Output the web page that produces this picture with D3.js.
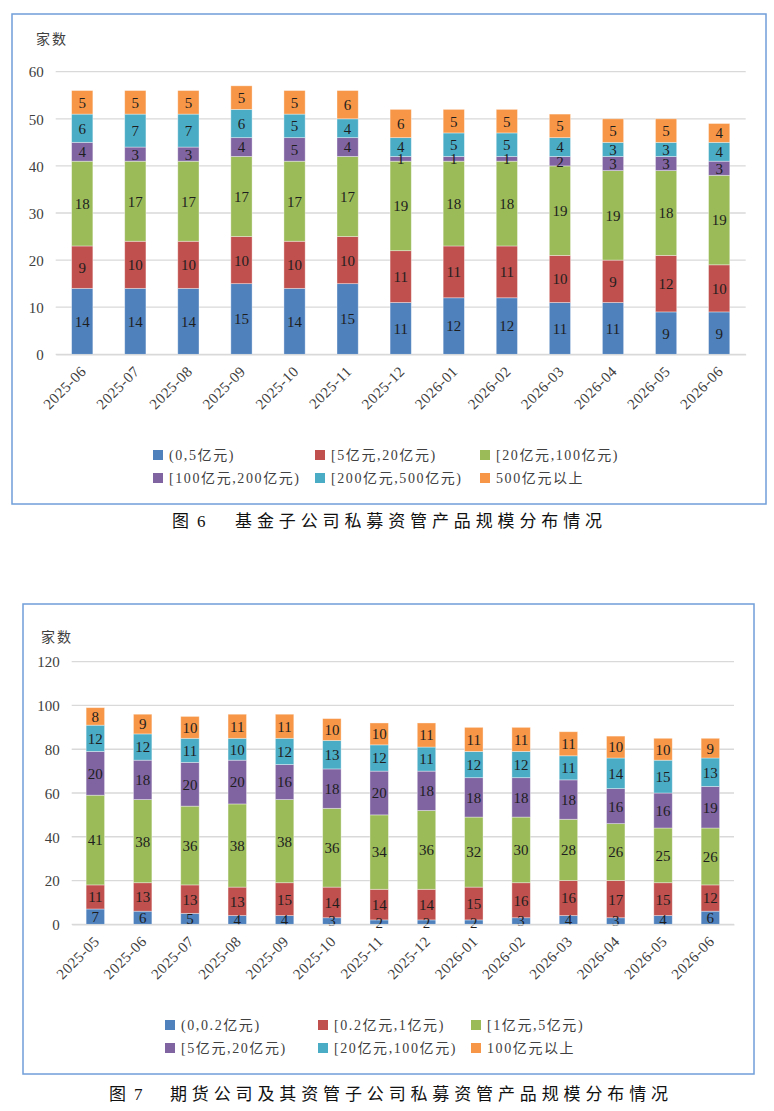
<!DOCTYPE html>
<html>
<head>
<meta charset="utf-8">
<script src="https://cdn.jsdelivr.net/npm/d3@7/dist/d3.min.js"></script>
<style>
  html, body { margin: 0; padding: 0; background: #fff; }
  svg { display: block; }
</style>
</head>
<body>
<svg id="root" width="774" height="1111"></svg>
<script>
// ---------- Chart 1 data (基金子公司) ----------
const months1 = ["2025-06","2025-07","2025-08","2025-09","2025-10","2025-11","2025-12","2026-01","2026-02","2026-03","2026-04","2026-05","2026-06"];
const legend1 = ["(0,5亿元)","[5亿元,20亿元)","[20亿元,100亿元)","[100亿元,200亿元)","[200亿元,500亿元)","500亿元以上"];
const c1_s0 = [14,14,14,15,14,15,11,12,12,11,11,9,9];
const c1_s1 = [9,10,10,10,10,10,11,11,11,10,9,12,10];
const c1_s2 = [18,17,17,17,17,17,19,18,18,19,19,18,19];
const c1_s3 = [4,3,3,4,5,4,1,1,1,2,3,3,3];
const c1_s4 = [6,7,7,6,5,4,4,5,5,4,3,3,4];
const c1_s5 = [5,5,5,5,5,6,6,5,5,5,5,5,4];
const yTicks1 = [0,10,20,30,40,50,60];

// ---------- Chart 2 data (期货公司及其资管子公司) ----------
const months2 = ["2025-05","2025-06","2025-07","2025-08","2025-09","2025-10","2025-11","2025-12","2026-01","2026-02","2026-03","2026-04","2026-05","2026-06"];
const legend2 = ["(0,0.2亿元)","[0.2亿元,1亿元)","[1亿元,5亿元)","[5亿元,20亿元)","[20亿元,100亿元)","100亿元以上"];
const c2_s0 = [7,6,5,4,4,3,2,2,2,3,4,3,4,6];
const c2_s1 = [11,13,13,13,15,14,14,14,15,16,16,17,15,12];
const c2_s2 = [41,38,36,38,38,36,34,36,32,30,28,26,25,26];
const c2_s3 = [20,18,20,20,16,18,20,18,18,18,18,16,16,19];
const c2_s4 = [12,12,11,10,12,13,12,11,12,12,11,14,15,13];
const c2_s5 = [8,9,10,11,11,10,10,11,11,11,11,10,10,9];
const yTicks2 = [0,20,40,60,80,100,120];

const colors = ["#4f81bd","#c0504d","#9bbb59","#8064a2","#4bacc6","#f79646"];
const FONT = "'Liberation Serif','Noto Sans CJK SC',serif";

const svg = d3.select("#root");

function drawChart(o) {
  const g = svg.append("g");
  // frame
  g.append("rect")
    .attr("x", o.frame[0]).attr("y", o.frame[1])
    .attr("width", o.frame[2] - o.frame[0]).attr("height", o.frame[3] - o.frame[1])
    .attr("fill", "none").attr("stroke", "#6f9fd8").attr("stroke-width", 1.5);

  const x = d3.scaleBand().domain(o.cats).range([o.left, o.right]).paddingInner(o.pad).paddingOuter(o.pad / 2);
  const y = d3.scaleLinear().domain([0, o.yMax]).range([o.bottom, o.top]);

  // grid
  g.append("g").selectAll("line").data(o.ticks).join("line")
    .attr("x1", o.left).attr("x2", o.right)
    .attr("y1", d => y(d)).attr("y2", d => y(d))
    .attr("stroke", "#d9d9d9").attr("stroke-width", 1.3);

  // y axis labels
  const yAxis = d3.axisLeft(y).tickValues(o.ticks).tickSize(0).tickPadding(0).tickFormat(d3.format("d"));
  const ya = g.append("g").attr("transform", `translate(${o.left - 12},0)`).call(yAxis);
  ya.select(".domain").remove();
  ya.selectAll("text").attr("font-family", FONT).attr("font-size", 15).attr("fill", "#404040").attr("dy", "0.35em");

  // y title
  g.append("text").attr("x", o.ytitle[0]).attr("y", o.ytitle[1])
    .attr("font-family", FONT).attr("font-size", 14).attr("letter-spacing", 2)
    .attr("fill", "#404040").text("家数");

  // stacked data
  const rows = o.cats.map((c, i) => {
    const r = { cat: c };
    o.series.forEach((s, k) => r["k" + k] = s[i]);
    return r;
  });
  const keys = o.series.map((s, k) => "k" + k);
  const stacked = d3.stack().keys(keys)(rows);

  const layers = g.append("g").selectAll("g").data(stacked).join("g")
    .attr("fill", (d, k) => colors[k]);
  layers.selectAll("rect").data(d => d).join("rect")
    .attr("x", d => x(d.data.cat))
    .attr("width", x.bandwidth())
    .attr("y", d => y(d[1]))
    .attr("height", d => y(d[0]) - y(d[1]))
    .attr("stroke", "rgba(255,255,255,0.45)").attr("stroke-width", 0.8);

  // value labels
  const lab = g.append("g").selectAll("g").data(stacked).join("g");
  lab.selectAll("text").data(d => d).join("text")
    .attr("x", d => x(d.data.cat) + x.bandwidth() / 2)
    .attr("y", d => (y(d[0]) + y(d[1])) / 2)
    .attr("dy", "0.36em")
    .attr("text-anchor", "middle")
    .attr("font-family", FONT).attr("font-size", 15)
    .attr("fill", "#1e1e1e")
    .text(d => d[1] - d[0]);

  // x labels (rotated)
  const xAxis = d3.axisBottom(x).tickSize(0).tickPadding(0);
  const xa = g.append("g").attr("transform", `translate(0,${o.bottom})`).call(xAxis);
  xa.select(".domain").attr("stroke", "#d9d9d9").attr("stroke-width", 1.3);
  xa.selectAll("text")
    .attr("font-family", FONT).attr("font-size", 15).attr("fill", "#404040")
    .attr("letter-spacing", 0.5)
    .attr("text-anchor", "end")
    .attr("dy", null).attr("y", null)
    .attr("transform", `translate(5,${o.xlabDy}) rotate(-45)`);

  // legend
  const items = o.legend.map((t, k) => ({ t, k }));
  const lg = g.append("g").selectAll("g").data(items).join("g")
    .attr("transform", d => `translate(${o.legCols[d.k % 3]},${o.legRows[Math.floor(d.k / 3)]})`);
  lg.append("rect").attr("x", 0).attr("y", -5).attr("width", 10).attr("height", 10)
    .attr("fill", d => colors[d.k]);
  lg.append("text").attr("x", o.legTextOff).attr("y", 0).attr("dy", "0.36em")
    .attr("font-family", FONT).attr("font-size", 14).attr("letter-spacing", 1.6)
    .attr("fill", "#404040").text(d => d.t);

  // caption
  const cap = svg.append("g")
    .attr("font-family", FONT).attr("font-size", o.capSize).attr("fill", "#111");
  cap.append("text").attr("x", o.capX[0]).attr("y", o.capY).text("图");
  cap.append("text").attr("x", o.capX[1]).attr("y", o.capY).text(o.capNum);
  cap.append("text").attr("x", o.capX[2]).attr("y", o.capY)
    .attr("textLength", o.capLen).attr("lengthAdjust", "spacing")
    .text(o.capText);
}

drawChart({
  frame: [12, 14, 766, 504],
  cats: months1,
  series: [c1_s0, c1_s1, c1_s2, c1_s3, c1_s4, c1_s5],
  ticks: yTicks1, yMax: 60,
  left: 55.7, right: 745.7, top: 71.7, bottom: 354.3, pad: 0.6,
  ytitle: [36, 44],
  xlabDy: 18,
  legend: legend1, legCols: [153, 315, 480], legRows: [455, 478], legTextOff: 16,
  capY: 527, capSize: 17, capX: [172, 197, 235], capNum: "6", capLen: 367,
  capText: "基金子公司私募资管产品规模分布情况"
});

drawChart({
  frame: [23, 604, 754, 1074],
  cats: months2,
  series: [c2_s0, c2_s1, c2_s2, c2_s3, c2_s4, c2_s5],
  ticks: yTicks2, yMax: 120,
  left: 71.7, right: 734, top: 661.7, bottom: 924.3, pad: 0.61,
  ytitle: [41, 642],
  xlabDy: 18,
  legend: legend2, legCols: [165, 318, 471], legRows: [1025, 1048], legTextOff: 16,
  capY: 1100, capSize: 17, capX: [109, 134, 170], capNum: "7", capLen: 498,
  capText: "期货公司及其资管子公司私募资管产品规模分布情况"
});
</script>
</body>
</html>
